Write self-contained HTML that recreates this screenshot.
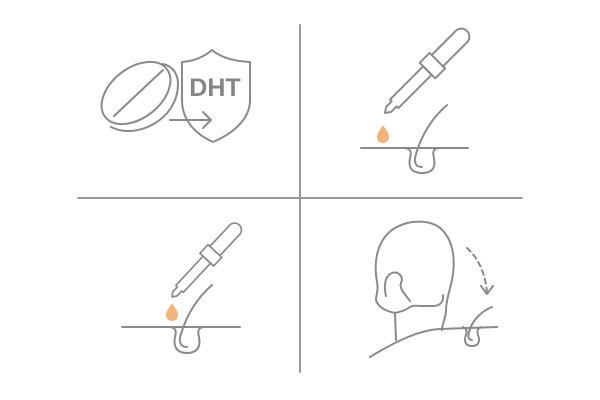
<!DOCTYPE html>
<html><head><style>html,body{margin:0;padding:0;background:#fff;}svg{display:block}</style></head>
<body>
<svg width="600" height="400" viewBox="0 0 600 400" xmlns="http://www.w3.org/2000/svg">
<defs>
<g id="dropper">
<path d="M0 0 L5 -3.5 L13 -3.5 L13 -6 L60 -6 L60 6 L13 6 L13 3.5 L5 3.5 Z"/>
<rect x="60" y="-11" width="14" height="22"/>
<path d="M74 -8 L108 -8 A8 8 0 0 1 108 8 L74 8"/>
</g>
</defs>
<g fill="none" stroke="#8a8a8a" stroke-width="2" stroke-linecap="round" stroke-linejoin="round">
<line x1="300" y1="25" x2="300" y2="372" stroke="#999"/>
<line x1="78" y1="198" x2="522" y2="198" stroke="#999"/>
<!-- pill -->
<ellipse cx="136" cy="93" rx="39" ry="25" transform="rotate(-38 136 93)"/>
<path d="M111 127 C136 140 178 120 178 84 C178 73 172 66 163 64"/>
<line x1="114" y1="116" x2="163" y2="70"/>
<!-- shield -->
<path d="M182 62 C196 61 205 56 212 50 C219 56 230 61 250 62 L250 100 C250 120 232 134 213 142 C195 134 182 120 182 100 Z" fill="#fff"/>
<line x1="170" y1="120" x2="211" y2="120"/>
<path d="M203 112 L211 120 L203 128"/>
<!-- top-right -->
<use href="#dropper" transform="translate(385,113) rotate(-45)"/>
<line x1="361" y1="148" x2="468" y2="148"/>
<path d="M404 148 C410 148 412 151 410 158 C408 168 412 173 422 173 C432 173 436 168 434 158 C432 151 434 148 440 148"/>
<path d="M422 167 C414 167 414 160 416 154 C422 134 432 118 447 105"/>
<!-- bottom-left -->
<use href="#dropper" transform="translate(172,297) rotate(-47) scale(0.85)"/>
<line x1="122" y1="327" x2="240" y2="327"/>
<path d="M169 327 C175 327 177 330 175 337 C173 347 177 353 187 353 C197 353 201 347 199 337 C197 330 199 327 205 327"/>
<path d="M187 347 C179 347 179 340 181 334 C187 314 197 298 212 285"/>
</g>
<text x="215" y="96" text-anchor="middle" font-family="Liberation Sans, sans-serif" font-weight="bold" font-size="25" fill="#858585">DHT</text>
<path d="M383 125 C380 130 377 133 377 137 C377 141 380 143 383 143 C386 143 389 141 389 137 C389 133 386 130 383 125 Z" fill="#f3b47c"/>
<path d="M172 303 C169 308 166 311 166 315 C166 319 169 321 172 321 C175 321 178 319 178 315 C178 311 175 308 172 303 Z" fill="#f3b47c"/>
<!-- head -->
<g fill="none" stroke="#8a8a8a" stroke-width="2" stroke-linecap="round" stroke-linejoin="round">
<path d="M396 340 L395 313 C385 311 378 307 376 300 C376 294 379 290 377 282 C373 260 378 238 395 228 C412 218 435 220 444 232 C455 245 455 265 452 280 C450 290 446 300 446 310 C446 318 442 324 442 330"/>
<path d="M395 313 C400 312 406 310 410 307 C413 305 416 306 424 306 L433 306 C440 306 444 302 443 295"/>
<path d="M386 296 C384 288 384 276 392 273 C398 271 404 276 401 283 C399 288 404 293 410 301"/>
<path d="M370 357 C398 340 420 330 440 329 L497 327"/>
<path d="M463 327 C467 329 467 331 466 335 C463 343 467 346 472 346 C477 346 481 343 478 335 C477 331 477 329 481 327"/>
<path d="M472 340 C468 340 468 336 469 332 C472 320 482 311 492 307"/>
<path d="M467 248 C478 258 485 272 487 292" stroke-dasharray="5 4"/>
<path d="M481 286 L487 294 L493 286"/>
</g>
</svg>
</body></html>
